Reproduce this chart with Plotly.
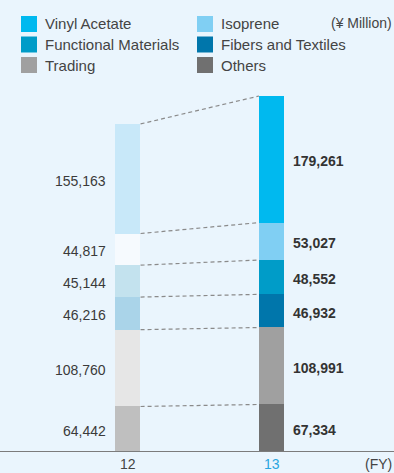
import plotly.graph_objects as go

# ---- data ----
years = ["12", "13"]
segments = ["Others", "Trading", "Fibers and Textiles", "Functional Materials", "Isoprene", "Vinyl Acetate"]
values_fy12 = [64442, 108760, 46216, 45144, 44817, 155163]
values_fy13 = [67334, 108991, 46932, 48552, 53027, 179261]
colors_fy13 = ["#707070", "#A0A0A0", "#0076AB", "#009CC8", "#80CFF3", "#00B9EF"]
colors_fy12 = ["#BFBFBF", "#E6E6E6", "#AAD4E9", "#C3E2EE", "#F6FAFE", "#C8E8F9"]
legend_order = ["Vinyl Acetate", "Isoprene", "Functional Materials", "Fibers and Textiles", "Trading", "Others"]

W, H = 394, 473
BG = "#EAF5FD"
bw = 25 / 144
plot_h = 452
total13 = sum(values_fy13)
ymax = total13 * plot_h / 356

fig = go.Figure()
for i, name in enumerate(segments):
    fig.add_trace(go.Bar(
        x=[0, 1], y=[values_fy12[i], values_fy13[i]],
        marker=dict(color=[colors_fy12[i], colors_fy13[i]], line=dict(width=0)),
        width=bw, name=name, showlegend=False, hoverinfo="skip",
    ))

shapes = []
annotations = []
c12 = 0
c13 = 0
for i in range(len(segments)):
    mid12 = c12 + values_fy12[i] / 2
    mid13 = c13 + values_fy13[i] / 2
    c12 += values_fy12[i]
    c13 += values_fy13[i]
    shapes.append(dict(type="line", xref="x", yref="y", x0=bw / 2 + 0.004, x1=1 - bw / 2,
                       y0=c12, y1=c13, line=dict(color="#8A8A8A", width=1.2, dash="4px,3px")))
    annotations.append(dict(x=-bw / 2, y=mid12, xref="x", yref="y", text=f"{values_fy12[i]:,}",
                            showarrow=False, xanchor="right", yanchor="middle", xshift=-7, yshift=-2,
                            font=dict(size=14, color="#3a3a3a", family="Liberation Sans, Arial")))
    annotations.append(dict(x=1 + bw / 2, y=mid13, xref="x", yref="y", text=f"<b>{values_fy13[i]:,}</b>",
                            showarrow=False, xanchor="left", yanchor="middle", xshift=7, yshift=-2,
                            font=dict(size=14, color="#333333", family="Liberation Sans, Arial")))

# axis baseline
shapes.append(dict(type="line", xref="paper", yref="y", x0=0, x1=1, y0=0, y1=0,
                   line=dict(color="#7C7C7C", width=2)))

# legend (two columns, three rows)
def py(p):
    return 1 - p / plot_h

cols_x = [21, 197]
rows_y = [24, 44.5, 65]
for k, name in enumerate(legend_order):
    idx = segments.index(name)
    cx = cols_x[k % 2]
    cy = rows_y[k // 2]
    shapes.append(dict(type="rect", xref="paper", yref="paper",
                       x0=cx / W, x1=(cx + 16) / W, y0=py(cy + 8), y1=py(cy - 8),
                       fillcolor=colors_fy13[idx], line=dict(width=0)))
    annotations.append(dict(x=(cx + 22) / W, y=py(cy), xref="paper", yref="paper", text=name,
                            showarrow=False, xanchor="left", yanchor="middle",
                            font=dict(size=15, color="#444444", family="Liberation Sans, Arial")))

annotations.append(dict(x=1, y=py(23), xref="paper", yref="paper", text="(¥ Million)",
                        showarrow=False, xanchor="right", yanchor="middle",
                        font=dict(size=14, color="#444444", family="Liberation Sans, Arial")))

# x labels
label_y = py(464)
annotations.append(dict(x=0, y=label_y, xref="x", yref="paper", text=years[0], showarrow=False,
                        xanchor="center", yanchor="middle",
                        font=dict(size=14, color="#444444", family="Liberation Sans, Arial")))
annotations.append(dict(x=1, y=label_y, xref="x", yref="paper", text=years[1], showarrow=False,
                        xanchor="center", yanchor="middle",
                        font=dict(size=14, color="#29A6E0", family="Liberation Sans, Arial")))
annotations.append(dict(x=1, y=label_y, xref="paper", yref="paper", text="(FY)", showarrow=False,
                        xanchor="right", yanchor="middle",
                        font=dict(size=14, color="#444444", family="Liberation Sans, Arial")))

fig.update_layout(
    width=W, height=H,
    margin=dict(l=0, r=0, t=0, b=H - plot_h),
    paper_bgcolor=BG, plot_bgcolor=BG,
    barmode="stack", bargap=0,
    xaxis=dict(range=[-127.5 / 144, (W - 127.5) / 144], visible=False, fixedrange=True),
    yaxis=dict(range=[0, ymax], visible=False, fixedrange=True),
    shapes=shapes, annotations=annotations, showlegend=False,
)

fig.write_html("out.html", config={"displayModeBar": False},
               post_script="document.body.style.margin='0';document.body.style.overflow='hidden';document.documentElement.style.overflow='hidden';")
